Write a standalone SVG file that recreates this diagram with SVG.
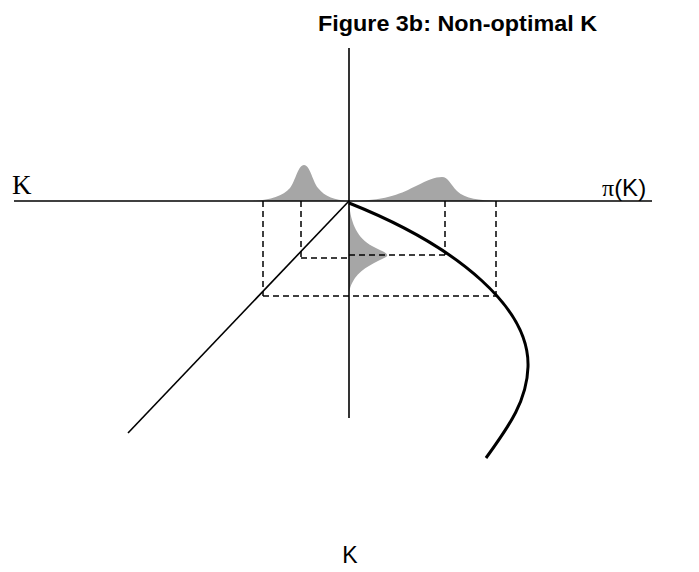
<svg xmlns="http://www.w3.org/2000/svg" width="699" height="572" viewBox="0 0 699 572">
<style>
.axis{stroke:#000;stroke-width:1.6;fill:none}
.dash{stroke:#000;stroke-width:1.5;stroke-dasharray:6 4;fill:none}
.dist{fill:#a6a6a6;stroke:none}
.curve{stroke:#000;stroke-width:3;fill:none}
.sans{font-family:"Liberation Sans",Arial,sans-serif}
.serif{font-family:"Liberation Serif","Times New Roman",serif}
</style>
<rect width="699" height="572" fill="#fff"/>
<g id="title"><text class="sans" x="318" y="31" font-size="22" font-weight="bold" textLength="279" lengthAdjust="spacingAndGlyphs">Figure 3b: Non-optimal K</text></g>
<g id="distributions">
<path class="dist" d="M253,201 C270,200 283,196 290,188 C296,180 298,165 304,165 C310,165 312,180 318,188 C325,197 335,200 348,201 Z"/>
<path class="dist" d="M355,201 C388,200 402,193 416,186 C428,180 435,177 442,177 C448,177 451,185 457,191 C465,199 480,200 497,201 Z"/>
<path class="dist" d="M349,203 C351,225 358,238 372,246 C384,252 390,254 386,257 C376,262 362,268 355,278 C351,284 350,288 349,292 Z"/>
</g>
<g id="connectors">
<line class="axis" x1="14" y1="201" x2="652" y2="201"/>
<line class="axis" x1="349" y1="48" x2="349" y2="418"/>
<line class="axis" x1="349" y1="201" x2="128" y2="433"/>
<path class="curve" d="M349,203 C462,248 530,310 528,367 C527,400 510,425 486,458"/>
<line class="dash" x1="263" y1="201" x2="263" y2="296"/>
<line class="dash" x1="301" y1="201" x2="301" y2="258"/>
<line class="dash" x1="445" y1="201" x2="445" y2="255"/>
<line class="dash" x1="496" y1="201" x2="496" y2="296"/>
<line class="dash" x1="301" y1="258" x2="349" y2="258"/>
<line class="dash" x1="349" y1="255" x2="445" y2="255"/>
<line class="dash" x1="263" y1="296" x2="496" y2="296"/>
</g>
<g id="labels">
<text class="serif" x="12" y="194" font-size="27">K</text>
<text x="602" y="196" font-size="24"><tspan class="serif">π</tspan><tspan class="sans">(K)</tspan></text>
<text class="sans" x="350" y="563" font-size="23" text-anchor="middle">K</text>
</g>
</svg>
